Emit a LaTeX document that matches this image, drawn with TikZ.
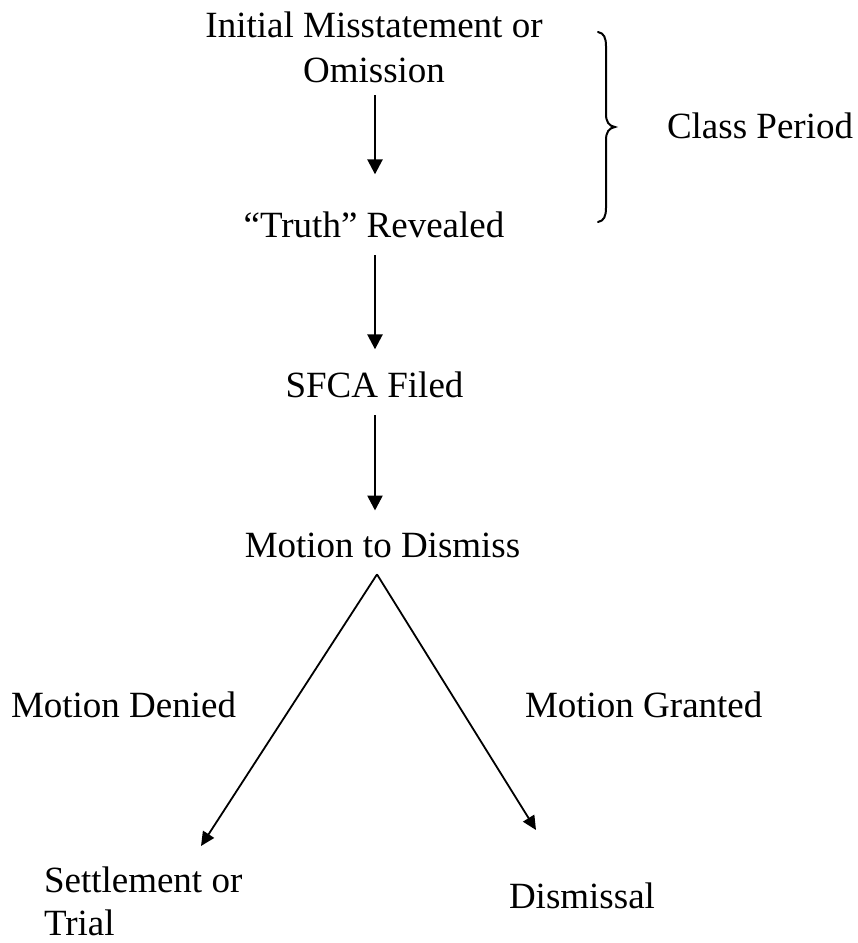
\documentclass[tikz,border=0pt]{standalone}
\usepackage{fontspec}
\setmainfont{Liberation Serif}
\usetikzlibrary{arrows.meta}
\begin{document}
\begin{tikzpicture}[x=1pt,y=-1pt,
  lbl/.style={inner sep=0pt,outer sep=0pt,font=\fontsize{37}{45}\selectfont},
  varr/.style={line width=2.6pt,-{Triangle[length=15pt,width=15pt]}},
  darr/.style={line width=1.8pt,-{Triangle[length=14pt,width=13pt]}},
  bracestyle/.style={line width=2pt,line cap=round}]
\useasboundingbox (0,0) rectangle (858,943);
\node[lbl,align=center,anchor=base] (n1) at (374,82) {Initial Misstatement or\\Omission};
\node[lbl,anchor=base] (n2) at (374,237) {“Truth” Revealed};
\node[lbl,anchor=base] (n3) at (374.5,397) {SFCA Filed};
\node[lbl,anchor=base] (n4) at (382.5,557) {Motion to Dismiss};
\node[lbl,anchor=base west] (cp) at (667,138) {Class Period};
\node[lbl,anchor=base west] (md) at (11,717) {Motion Denied};
\node[lbl,anchor=base west] (mg) at (525,717) {Motion Granted};
\node[lbl,align=left,anchor=base west,font=\fontsize{37}{43}\selectfont] (st) at (44,935) {Settlement or\\Trial};
\node[lbl,anchor=base west] (ds) at (509,908) {Dismissal};
% connectors between the step texts
\draw[varr] ([xshift=1pt,yshift=-13pt]n1.south) -- ([xshift=1pt,yshift=37pt]n2.north);
\draw[varr] ([xshift=1pt,yshift=-18pt]n2.south) -- ([xshift=0.5pt,yshift=22pt]n3.north);
\draw[varr] ([xshift=0.5pt,yshift=-18pt]n3.south) -- ([xshift=-7.5pt,yshift=22pt]n4.north);
\coordinate (apex) at ([shift={(-5.5,17)}]n4.south);
\coordinate (tipL) at (201,846);
\coordinate (tipR) at (536,830);
\draw[darr] (apex) -- (tipL);
\draw[darr] (apex) -- (tipR);
% brace
\draw[bracestyle] (598,32) .. controls (604,33) and (606,38) .. (606,46) -- (606,114)
  .. controls (606,122) and (609,126) .. (615,127)
  .. controls (609,128) and (606,132) .. (606,140) -- (606,208)
  .. controls (606,216) and (604,221) .. (598,222);
\end{tikzpicture}
\end{document}
